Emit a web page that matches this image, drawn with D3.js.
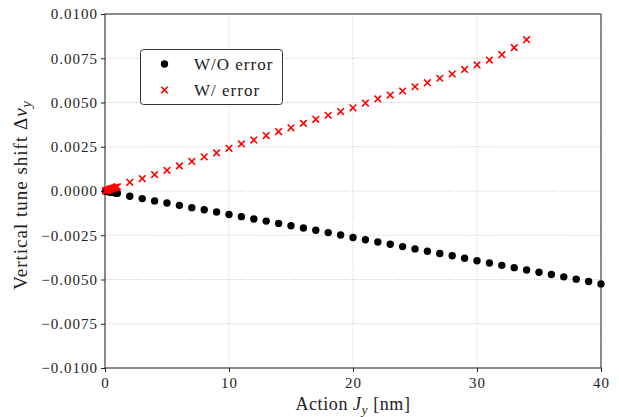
<!DOCTYPE html>
<html>
<head>
<meta charset="utf-8">
<script src="https://cdn.jsdelivr.net/npm/d3@7"></script>
<style>
  html, body { margin: 0; padding: 0; background: #fff; }
  svg { display: block; }
  svg text { font-family: "Liberation Serif", "Times New Roman", "DejaVu Serif", serif !important; fill: #222; }
</style>
</head>
<body>
<svg id="chart" width="619" height="417"></svg>
<script>
// ---- data ----
const jWithout = [0.05,0.1,0.2,0.3,0.4,0.5,0.6,0.7,0.8,0.9,1.0,
  2,3,4,5,6,7,8,9,10,11,12,13,14,15,16,17,18,19,20,
  21,22,23,24,25,26,27,28,29,30,31,32,33,34,35,36,37,38,39,40];
const tuneWithout = [-0.00001,-0.00001,-0.00003,-0.00004,-0.00005,-0.00007,-0.00008,-0.00009,-0.00010,-0.00012,-0.00013,
  -0.00030,-0.00043,-0.00056,-0.00068,-0.00081,-0.00094,-0.00106,-0.00119,-0.00133,
  -0.00145,-0.00158,-0.00170,-0.00183,-0.00196,-0.00209,-0.00222,-0.00235,-0.00249,-0.00263,
  -0.00275,-0.00288,-0.00301,-0.00314,-0.00327,-0.00340,-0.00353,-0.00366,-0.00380,-0.00394,
  -0.00407,-0.00420,-0.00433,-0.00446,-0.00459,-0.00472,-0.00485,-0.00498,-0.00511,-0.00525];

const jWith = [0.05,0.1,0.2,0.3,0.4,0.5,0.6,0.7,0.8,0.9,1.0,
  2,3,4,5,6,7,8,9,10,11,12,13,14,15,16,17,18,19,20,
  21,22,23,24,25,26,27,28,29,30,31,32,33,34];
const tuneWith = [0.00001,0.00002,0.00005,0.00007,0.00010,0.00012,0.00014,0.00017,0.00019,0.00022,0.00024,
  0.00049,0.00070,0.00093,0.00117,0.00142,0.00167,0.00193,0.00215,0.00241,
  0.00266,0.00288,0.00313,0.00336,0.00357,0.00382,0.00405,0.00428,0.00449,0.00470,
  0.00497,0.00520,0.00542,0.00565,0.00589,0.00612,0.00637,0.00661,0.00687,0.00712,
  0.00740,0.00770,0.00810,0.00855];

const xTicks = [0, 10, 20, 30, 40];
const yTicks = [-0.0100, -0.0075, -0.0050, -0.0025, 0.0000, 0.0025, 0.0050, 0.0075, 0.0100];
const seriesNames = ["W/O error", "W/ error"];
const seriesColors = ["#000000", "#ff0000"];

// ---- layout ----
const svg = d3.select("#chart");
const margin = {left: 105, right: 18, top: 14, bottom: 49};
const W = 619, H = 417;
const x = d3.scaleLinear().domain([0, 40]).range([margin.left, W - margin.right]);
const y = d3.scaleLinear().domain([-0.01, 0.01]).range([H - margin.bottom, margin.top]);

// grid
const grid = svg.append("g").attr("stroke", "#b8b8b8").attr("stroke-width", 0.8).attr("stroke-dasharray", "1,1.6");
grid.selectAll("line.vx").data(xTicks).join("line")
  .attr("x1", d => x(d)).attr("x2", d => x(d))
  .attr("y1", y(-0.01)).attr("y2", y(0.01));
grid.selectAll("line.hy").data(yTicks).join("line")
  .attr("x1", x(0)).attr("x2", x(40))
  .attr("y1", d => y(d)).attr("y2", d => y(d));

// axes
const fmt = d3.format(".4f");
const xAxis = svg.append("g").attr("transform", `translate(0,${y(-0.01)})`)
  .call(d3.axisBottom(x).tickValues(xTicks).tickSize(4).tickPadding(3).tickFormat(d3.format("d")));
const yAxis = svg.append("g").attr("transform", `translate(${x(0)},0)`)
  .call(d3.axisLeft(y).tickValues(yTicks).tickSize(4).tickPadding(3).tickFormat(fmt));
[xAxis, yAxis].forEach(a => {
  a.attr("font-family", null);
  a.select(".domain").remove();
  a.selectAll(".tick line").attr("stroke", "#222").attr("stroke-width", 1);
  a.selectAll(".tick text").attr("font-size", 15)
    .attr("fill", "#222").style("letter-spacing", "1px");
});
xAxis.selectAll(".tick text").attr("dy", "0.85em");

// frame
svg.append("rect")
  .attr("x", x(0)).attr("y", y(0.01))
  .attr("width", x(40) - x(0)).attr("height", y(-0.01) - y(0.01))
  .attr("fill", "none").attr("stroke", "#222").attr("stroke-width", 1);

// points
const dataWithout = jWithout.map((j, i) => ({j, v: tuneWithout[i]}));
const dataWith = jWith.map((j, i) => ({j, v: tuneWith[i]}));
const plot = svg.append("g");
plot.selectAll("circle").data(dataWithout).join("circle")
  .attr("cx", d => x(d.j)).attr("cy", d => y(d.v)).attr("r", 3.7)
  .attr("fill", seriesColors[0]);
const cross = "M-3.3,-3.3L3.3,3.3M-3.3,3.3L3.3,-3.3";
plot.selectAll("path.cross").data(dataWith).join("path").attr("class", "cross")
  .attr("d", cross)
  .attr("transform", d => `translate(${x(d.j)},${y(d.v)})`)
  .attr("stroke", seriesColors[1]).attr("stroke-width", 1.6).attr("fill", "none");

// legend
const lg = svg.append("g");
lg.append("rect").attr("x", 140.5).attr("y", 49.5).attr("width", 142).attr("height", 55)
  .attr("rx", 3).attr("fill", "#fff").attr("stroke", "#333").attr("stroke-width", 1);
lg.append("circle").attr("cx", 164.5).attr("cy", 64).attr("r", 3.7).attr("fill", seriesColors[0]);
lg.append("path").attr("d", cross).attr("transform", "translate(164.5,90)")
  .attr("stroke", seriesColors[1]).attr("stroke-width", 1.6).attr("fill", "none");
lg.selectAll("text").data(seriesNames).join("text")
  .attr("x", 194).attr("y", (d, i) => 64 + 26 * i).attr("dy", "0.35em")
  .attr("font-size", 17).style("letter-spacing", "1px").text(d => d);

// axis labels
const xl = svg.append("text").attr("x", (x(0) + x(40)) / 2).attr("y", 410)
  .attr("text-anchor", "middle").attr("font-size", 18).style("letter-spacing", "0.6px");
xl.append("tspan").text("Action ");
xl.append("tspan").attr("font-style", "italic").text("J");
xl.append("tspan").attr("font-style", "italic").attr("font-size", 13).attr("dy", 4).text("y");
xl.append("tspan").attr("dy", -4).text(" [nm]");

const yl = svg.append("text")
  .attr("transform", `translate(27,195) rotate(-90)`)
  .attr("text-anchor", "middle").attr("font-size", 19).style("letter-spacing", "1px");
yl.append("tspan").text("Vertical tune shift Δ");
yl.append("tspan").attr("font-style", "italic").text("ν");
yl.append("tspan").attr("font-style", "italic").attr("font-size", 14).attr("dy", 4).text("y");
</script>
</body>
</html>
